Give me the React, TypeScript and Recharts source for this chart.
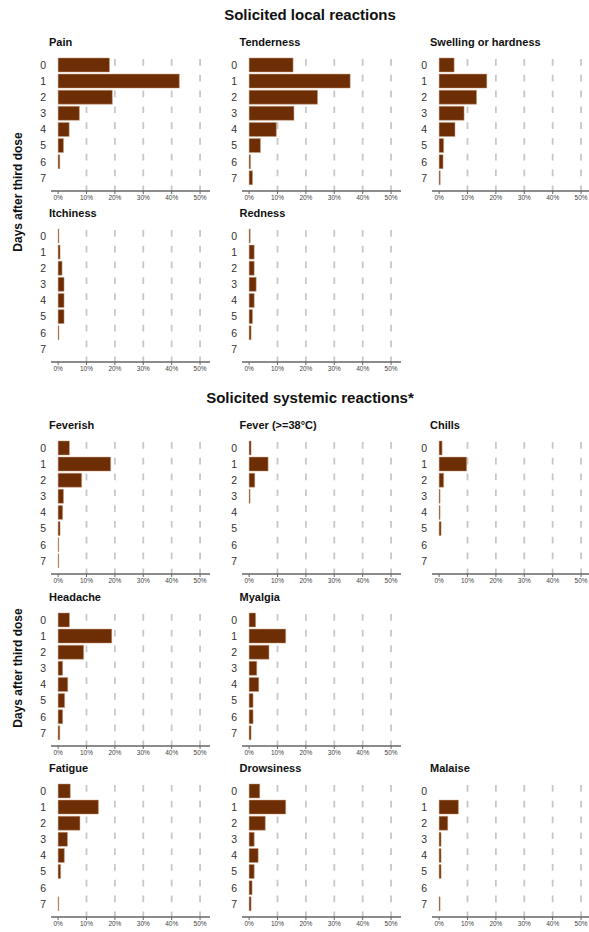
import React from 'react';
import { BarChart, Bar, XAxis, YAxis, CartesianGrid } from 'recharts';

// days after third dose (category axis)
const days = ['0', '1', '2', '3', '4', '5', '6', '7'];
const xTicks = [0, 10, 20, 30, 40, 50];
const gridValues = [10, 20, 30, 40, 50];

// solicited local reactions, % of participants
const pain = [18.1, 42.7, 19.1, 7.5, 3.9, 1.9, 0.6, 0];
const tenderness = [15.5, 35.6, 24.1, 15.8, 9.6, 4.0, 0.5, 1.2];
const swelling = [5.3, 16.8, 13.2, 8.8, 5.6, 1.6, 1.4, 0.4];
const itchiness = [0.3, 0.7, 1.4, 2.1, 2.1, 2.1, 0.3, 0];
const redness = [0.4, 1.8, 1.8, 2.5, 1.8, 1.2, 0.7, 0];

// solicited systemic reactions, % of participants
const feverish = [4.0, 18.5, 8.3, 1.9, 1.6, 0.7, 0.25, 0.25];
const fever = [0.7, 6.7, 2.0, 0.35, 0, 0, 0, 0];
const chills = [1.05, 9.7, 1.6, 0.35, 0.35, 0.7, 0, 0];
const headache = [4.0, 18.9, 9.0, 1.6, 3.4, 2.3, 1.6, 0.6];
const myalgia = [2.3, 12.9, 7.0, 2.7, 3.4, 1.4, 1.4, 0.7];
const fatigue = [4.3, 14.2, 7.7, 3.3, 2.2, 0.9, 0, 0.25];
const drowsiness = [3.75, 12.9, 5.7, 1.8, 3.2, 1.8, 1.05, 0.7];
const malaise = [0, 6.8, 3.05, 0.7, 0.7, 0.7, 0, 0.35];

const FONT = '"Liberation Sans", Arial, Helvetica, sans-serif';
const BROWN = '#6e2e05';

const colX = [58, 248.5, 439];
const rowAxisY = [191, 362, 574, 745.5, 917];

const panels = [
  { title: 'Pain', values: pain, col: 0, row: 0 },
  { title: 'Tenderness', values: tenderness, col: 1, row: 0 },
  { title: 'Swelling or hardness', values: swelling, col: 2, row: 0 },
  { title: 'Itchiness', values: itchiness, col: 0, row: 1 },
  { title: 'Redness', values: redness, col: 1, row: 1 },
  { title: 'Feverish', values: feverish, col: 0, row: 2 },
  { title: 'Fever (>=38°C)', values: fever, col: 1, row: 2 },
  { title: 'Chills', values: chills, col: 2, row: 2 },
  { title: 'Headache', values: headache, col: 0, row: 3 },
  { title: 'Myalgia', values: myalgia, col: 1, row: 3 },
  { title: 'Fatigue', values: fatigue, col: 0, row: 4 },
  { title: 'Drowsiness', values: drowsiness, col: 1, row: 4 },
  { title: 'Malaise', values: malaise, col: 2, row: 4 },
];

const PLOT_H = 139;
const DOMAIN: [number, number] = [-2.5, 53.5];

function Panel({ title, values, zeroX, axisY }: { title: string; values: number[]; zeroX: number; axisY: number }) {
  const data = days.map((d, i) => ({ day: d, pct: values[i] }));
  return (
    <>
      <div
        style={{
          position: 'absolute',
          left: zeroX - 9,
          top: axisY - 149 - 7,
          fontSize: 11,
          lineHeight: '14px',
          fontWeight: 'bold',
          fontFamily: FONT,
          color: '#111',
          whiteSpace: 'nowrap',
        }}
      >
        {title}
      </div>
      <div style={{ position: 'absolute', left: zeroX - 7 - 30, top: axisY - PLOT_H }}>
        <BarChart
          width={194}
          height={PLOT_H + 20}
          data={data}
          layout="vertical"
          margin={{ top: 0, right: 5, bottom: 0, left: 0 }}
          barCategoryGap="6%"
        >
          <CartesianGrid
            xAxisId="grid"
            horizontal={false}
            syncWithTicks
            stroke="#c8c8c8"
            strokeWidth={1.8}
            strokeDasharray="6.7 9.1"
            strokeDashoffset={8.8}
          />
          <XAxis xAxisId="grid" type="number" domain={DOMAIN} ticks={gridValues} allowDataOverflow hide />
          <XAxis
            type="number"
            domain={DOMAIN}
            ticks={xTicks}
            allowDataOverflow
            height={20}
            tickSize={3}
            tickMargin={1}
            tickFormatter={(v) => `${v}%`}
            axisLine={{ stroke: '#666', strokeWidth: 1.5 }}
            tickLine={{ stroke: '#666' }}
            tick={{ fontSize: 6.5, fill: '#444', fontFamily: FONT }}
          />
          <YAxis
            type="category"
            dataKey="day"
            width={30}
            interval={0}
            axisLine={false}
            tickLine={false}
            tickSize={0}
            tickMargin={5}
            padding={{ top: 5, bottom: 5 }}
            tick={{ fontSize: 10.5, fill: '#333', fontFamily: FONT }}
          />
          <Bar dataKey="pct" fill={BROWN} stroke="#c9a080" strokeWidth={0.5} isAnimationActive={false} />
        </BarChart>
      </div>
    </>
  );
}

function SectionTitle({ text, y }: { text: string; y: number }) {
  return (
    <div
      style={{
        position: 'absolute',
        left: 0,
        width: 620,
        top: y - 9,
        textAlign: 'center',
        fontSize: 15,
        lineHeight: '18px',
        fontWeight: 'bold',
        fontFamily: FONT,
        color: '#111',
      }}
    >
      {text}
    </div>
  );
}

function SideLabel({ y }: { y: number }) {
  return (
    <div
      style={{
        position: 'absolute',
        left: 18 - 100,
        width: 200,
        top: y - 8,
        height: 16,
        lineHeight: '16px',
        textAlign: 'center',
        fontSize: 12,
        fontWeight: 'bold',
        fontFamily: FONT,
        color: '#111',
        transform: 'rotate(-90deg)',
      }}
    >
      Days after third dose
    </div>
  );
}

export default function App() {
  return (
    <div style={{ position: 'relative', width: 589, height: 932, background: '#fff', overflow: 'hidden' }}>
      <style>{'body{margin:0}'}</style>
      <SectionTitle text="Solicited local reactions" y={15} />
      <SectionTitle text="Solicited systemic reactions*" y={398} />
      <SideLabel y={192} />
      <SideLabel y={668} />
      {panels.map((p) => (
        <Panel key={p.title} title={p.title} values={p.values} zeroX={colX[p.col]} axisY={rowAxisY[p.row]} />
      ))}
    </div>
  );
}
